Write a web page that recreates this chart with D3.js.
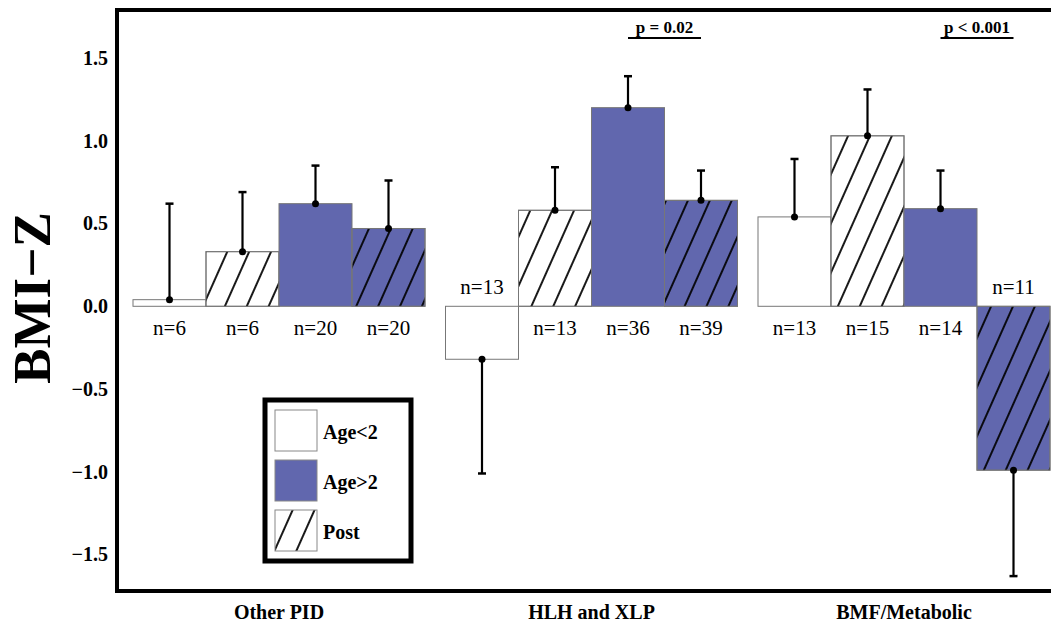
<!DOCTYPE html>
<html>
<head>
<meta charset="utf-8">
<script src="https://cdn.jsdelivr.net/npm/d3@7"></script>
<style>
  body { margin: 0; background: #fff; }
  text { font-family: "Liberation Serif", "DejaVu Serif", serif; }
</style>
</head>
<body>
<svg id="chart"></svg>
<script>
// data
var categories = ["Other PID", "HLH and XLP", "BMF/Metabolic"];
var seriesNames = ["Age<2", "Age<2 Post", "Age>2", "Age>2 Post"];
var means = [
  [0.04, 0.33, 0.62, 0.47],
  [-0.32, 0.58, 1.20, 0.64],
  [0.54, 1.03, 0.59, -0.99]
];
var errors = [
  [0.58, 0.36, 0.23, 0.29],
  [0.69, 0.26, 0.19, 0.18],
  [0.35, 0.28, 0.23, 0.64]
];
var nCounts = [
  [6, 6, 20, 20],
  [13, 13, 36, 39],
  [13, 15, 14, 11]
];
var yTicks = [-1.5, -1.0, -0.5, 0.0, 0.5, 1.0, 1.5];
var pCategories = ["HLH and XLP", "BMF/Metabolic"];
var pLabels = ["p = 0.02", "p < 0.001"];
var legendLabels = ["Age<2", "Age>2", "Post"];

var dimensions = {
  width: 1051,
  height: 627,
  margin: { top: 10, bottom: 36, left: 117, right: 0 }
}

var blue = "#6167ae";
var seriesFill = { "Age<2": "#ffffff", "Age<2 Post": "#ffffff", "Age>2": blue, "Age>2 Post": blue };
var seriesHatch = { "Age<2": false, "Age<2 Post": true, "Age>2": false, "Age>2 Post": true };

var svg = d3.select("#chart")
  .attr("width", dimensions.width)
  .attr("height", dimensions.height);

var defs = svg.append("defs");
var hatch = defs.append("pattern")
  .attr("id", "hatch")
  .attr("patternUnits", "userSpaceOnUse")
  .attr("width", 20)
  .attr("height", 10)
  .attr("patternTransform", "rotate(24)");
hatch.append("line")
  .attr("x1", 10).attr("y1", 0)
  .attr("x2", 10).attr("y2", 10)
  .attr("stroke", "black")
  .attr("stroke-width", 1.8);

var y = d3.scaleLinear()
  .domain([-1.72, 1.79])
  .range([dimensions.height - dimensions.margin.bottom, dimensions.margin.top]);

var x = d3.scaleBand()
  .domain(categories)
  .range([133, 1050])
  .paddingInner(0.0656)
  .paddingOuter(0);

var xs = d3.scaleBand()
  .domain(seriesNames)
  .range([0, x.bandwidth()])
  .padding(0);

// flat rows for drawing
var rows = [];
categories.forEach(function(c, i) {
  seriesNames.forEach(function(s, j) {
    rows.push({ cat: c, series: s, mean: means[i][j], err: errors[i][j], n: nCounts[i][j] });
  });
});

var bars = svg.append("g");
rows.forEach(function(d) {
  var x0 = x(d.cat) + xs(d.series);
  var top = y(Math.max(0, d.mean));
  var h = Math.abs(y(d.mean) - y(0));
  bars.append("rect")
    .attr("x", x0).attr("y", top)
    .attr("width", xs.bandwidth()).attr("height", h)
    .attr("fill", seriesFill[d.series])
    .attr("stroke", "#777").attr("stroke-width", 1);
  if (seriesHatch[d.series]) {
    bars.append("rect")
      .attr("x", x0).attr("y", top)
      .attr("width", xs.bandwidth()).attr("height", h)
      .attr("fill", "url(#hatch)")
      .attr("stroke", "#777").attr("stroke-width", 1);
  }
});

// error bars
var errG = svg.append("g");
rows.forEach(function(d) {
  var cx = x(d.cat) + xs(d.series) + xs.bandwidth() / 2;
  var end = d.mean >= 0 ? d.mean + d.err : d.mean - d.err;
  errG.append("line")
    .attr("x1", cx).attr("x2", cx)
    .attr("y1", y(d.mean)).attr("y2", y(end))
    .attr("stroke", "black").attr("stroke-width", 2.2);
  errG.append("line")
    .attr("x1", cx - 4).attr("x2", cx + 4)
    .attr("y1", y(end)).attr("y2", y(end))
    .attr("stroke", "black").attr("stroke-width", 2.5);
  errG.append("circle")
    .attr("cx", cx).attr("cy", y(d.mean)).attr("r", 3.5)
    .attr("fill", "black");
});

// n labels
svg.append("g").selectAll("text")
  .data(rows)
  .join("text")
  .attr("x", function(d) { return x(d.cat) + xs(d.series) + xs.bandwidth() / 2; })
  .attr("y", function(d) { return d.mean >= 0 ? y(0) + 29 : y(0) - 12; })
  .attr("text-anchor", "middle")
  .style("font-size", "21px")
  .text(function(d) { return "n=" + d.n; });

// frame
svg.append("rect")
  .attr("x", dimensions.margin.left)
  .attr("y", dimensions.margin.top)
  .attr("width", 1000)
  .attr("height", y.range()[0] - y.range()[1])
  .attr("fill", "none")
  .attr("stroke", "black")
  .attr("stroke-width", 4);

// y axis (labels only)
var yAxis = d3.axisLeft(y)
  .tickValues(yTicks)
  .tickSize(0)
  .tickPadding(8)
  .tickFormat(d3.format(".1f"));
var yg = svg.append("g")
  .attr("transform", "translate(" + (dimensions.margin.left - 1) + ",0)")
  .call(yAxis);
yg.select(".domain").remove();
yg.selectAll("text")
  .style("font-family", "Liberation Serif")
  .style("font-size", "20px")
  .style("font-weight", "bold")
  .attr("fill", "black");

// category labels
var xAxis = d3.axisBottom(x).tickSize(0).tickPadding(14);
var xg = svg.append("g")
  .attr("transform", "translate(0," + y.range()[0] + ")")
  .call(xAxis);
xg.select(".domain").remove();
xg.selectAll("text")
  .style("font-family", "Liberation Serif")
  .style("font-size", "20px")
  .style("font-weight", "bold")
  .attr("fill", "black");

// y title
svg.append("text")
  .attr("transform", "translate(50,298) rotate(-90)")
  .attr("text-anchor", "middle")
  .style("font-size", "53px")
  .style("font-weight", "bold")
  .text("BMI\u2212Z");

// p value annotations (between Age>2 and Age>2 Post)
pCategories.forEach(function(c, i) {
  var x1 = x(c) + xs("Age>2") + xs.bandwidth() / 2;
  var x2 = x(c) + xs("Age>2 Post") + xs.bandwidth() / 2;
  svg.append("line")
    .attr("x1", x1).attr("x2", x2)
    .attr("y1", 38).attr("y2", 38)
    .attr("stroke", "black").attr("stroke-width", 2);
  svg.append("text")
    .attr("x", (x1 + x2) / 2).attr("y", 33)
    .attr("text-anchor", "middle")
    .style("font-size", "17px")
    .style("font-weight", "bold")
    .text(pLabels[i]);
});

// legend
var legend = svg.append("g").attr("transform", "translate(265,400)");
legend.append("rect")
  .attr("width", 146).attr("height", 161)
  .attr("fill", "white")
  .attr("stroke", "black").attr("stroke-width", 5);
var legendFill = ["#ffffff", blue, "url(#hatch)"];
legendLabels.forEach(function(l, i) {
  var ly = 10 + i * 50;
  legend.append("rect")
    .attr("x", 10).attr("y", ly)
    .attr("width", 42).attr("height", 41)
    .attr("fill", legendFill[i])
    .attr("stroke", "#888").attr("stroke-width", 1);
  legend.append("text")
    .attr("x", 58).attr("y", ly + 29)
    .style("font-size", "20px")
    .style("font-weight", "bold")
    .text(l);
});
</script>
</body>
</html>
